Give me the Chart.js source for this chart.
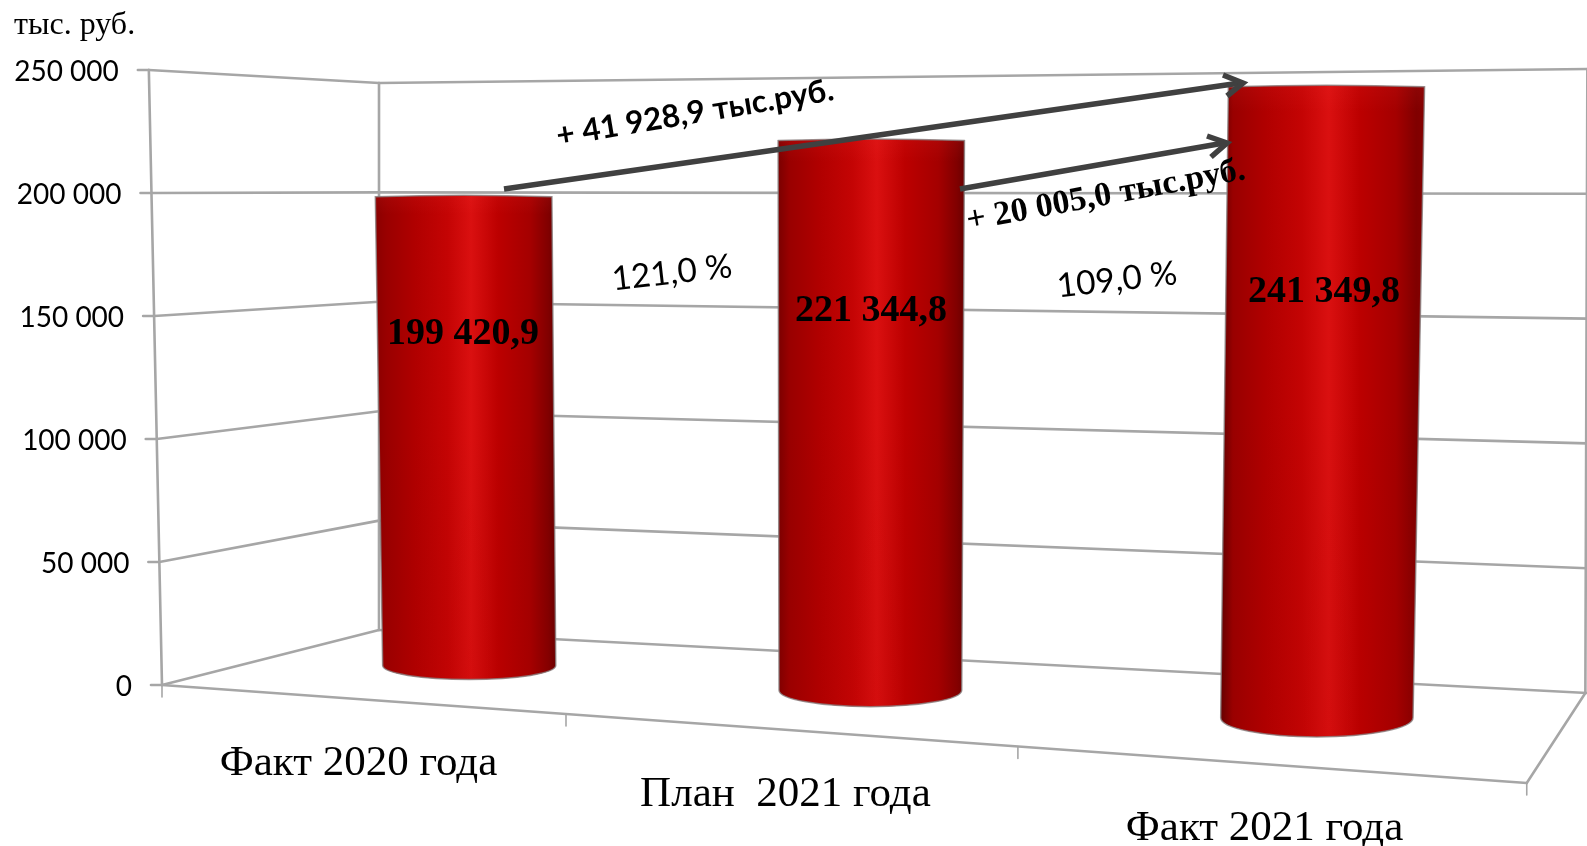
<!DOCTYPE html>
<html><head><meta charset="utf-8">
<script src="https://cdn.jsdelivr.net/npm/chart.js@4/dist/chart.umd.js"></script>
<style>html,body{margin:0;padding:0;background:#fff;overflow:hidden}canvas{display:block}</style>
</head><body>
<canvas id="c" width="1587" height="846" style="width:1587px;height:846px"></canvas>
<script>
// ---- data ----
const categories = ["Факт 2020 года", "План  2021 года", "Факт 2021 года"];
const values = [199420.9, 221344.8, 241349.8];
const yMin = 0, yMax = 250000, yStep = 50000;
const unitLabel = "тыс. руб.";
const growthLabels = ["+ 41 928,9 тыс.руб.", "+ 20 005,0 тыс.руб."];
const percentLabels = ["121,0 %", "109,0 %"];

// ---- perspective view of the 3D box ----
const GRID = "#a6a6a6", ARROW = "#404040";
const frontPt = u => { const x = (1122*u+162)/(1-0.159*u); return {x, y: 685+(x-162)*98/1365}; };
const backPt  = u => { const x = (986*u+379)/(1-0.139*u);  return {x, y: 630+(x-379)*63/1206}; };
const frontH = u => 607+125*u, backH = u => 547+77*u;
const WALL_H = 615;
const BAR_DEPTH = 0.56;
const lean = (x,t) => x + t*0.02*(x-820);
const fmtTick = v => String(v).replace(/\B(?=(\d{3})+$)/g," ");
const fmtVal = v => { const [a,b]=v.toFixed(1).split("."); return fmtTick(a)+","+b; };
const tOf = (c,v) => (c.scales.y.bottom-c.scales.y.getPixelForValue(v))/(c.scales.y.bottom-c.scales.y.top);
const barGeom = (el,c) => {
  const a = c.chartArea, u = (el.x-a.left)/a.width;
  const f = frontPt(u), b = backPt(u), d = BAR_DEPTH;
  const H = frontH(u)*(1-d)+backH(u)*d;
  return {u, x:f.x*(1-d)+b.x*d, y:f.y*(1-d)+b.y*d, H, w:el.width*H/620};
};

// ---- cylinders: the library's bar element, drawn in perspective ----
let chart;
Chart.registry.getElement("bar").prototype.draw = function(ctx){
  const g = barGeom(this, chart), t = (this.base-this.y)/chart.chartArea.height;
  const topY = g.y-t*g.H, cxTop = lean(g.x,t), wt = g.w*1.02, ry = g.w*(0.075+0.03*g.u);
  const tl = cxTop-wt/2, tr = cxTop+wt/2, bl = g.x-g.w/2, br = g.x+g.w/2;
  const path = () => { ctx.beginPath(); ctx.moveTo(tl,topY+1.5);
    ctx.quadraticCurveTo(cxTop,topY-1.5,tr,topY+1.5); ctx.lineTo(br,g.y);
    ctx.ellipse(g.x,g.y,g.w/2,ry,0,0,Math.PI); ctx.closePath(); };
  ctx.save();
  const gr = ctx.createLinearGradient(Math.min(tl,bl),0,Math.max(tr,br),0);
  const L = g.u<0.4?"#8a0000":(g.u<0.6?"#7a0000":"#5e0000");
  const R = g.u<0.4?"#660000":(g.u<0.6?"#6a0000":"#850000");
  gr.addColorStop(0,L); gr.addColorStop(0.06,"#990000"); gr.addColorStop(0.22,"#b00000");
  gr.addColorStop(0.4,"#c40404"); gr.addColorStop(0.53,"#da1010"); gr.addColorStop(0.68,"#bc0000");
  gr.addColorStop(0.86,"#a40000"); gr.addColorStop(0.96,"#800000"); gr.addColorStop(1,R);
  path(); ctx.fillStyle = gr; ctx.fill();
  const ov = ctx.createLinearGradient(0,topY,0,g.y+ry);
  ov.addColorStop(0,"rgba(255,60,60,0.10)"); ov.addColorStop(0.04,"rgba(255,60,60,0)");
  ov.addColorStop(0.5,"rgba(120,0,0,0)"); ov.addColorStop(1,"rgba(170,0,0,0.12)");
  path(); ctx.fillStyle = ov; ctx.fill();
  path(); ctx.strokeStyle = "rgba(135,125,125,0.8)"; ctx.lineWidth = 1.5; ctx.stroke();
  ctx.restore();
};

// ---- walls and floor ----
const wallsPlugin = { id:"walls", beforeInit(c){chart=c;}, beforeDatasetsDraw(c){
  const ctx = c.ctx, FL=frontPt(0), FR=frontPt(1), BL=backPt(0), BR=backPt(1);
  const line=(a,b)=>{ctx.beginPath();ctx.moveTo(a.x,a.y);ctx.lineTo(b.x,b.y);ctx.stroke();};
  ctx.save(); ctx.strokeStyle=GRID; ctx.lineWidth=2.6; ctx.lineCap="round";
  for (let v=yMin; v<=yMax; v+=yStep){
    const t=tOf(c,v);
    const a={x:lean(FL.x,t),y:FL.y-WALL_H*t}, b={x:BL.x,y:BL.y-backH(0)*t}, d={x:BR.x+2,y:BR.y-backH(1)*t};
    line(a,b); line(b,d);
    line({x:a.x-11,y:a.y},a);
  }
  line(FL,{x:lean(FL.x,1),y:FL.y-WALL_H});
  line(BL,{x:BL.x,y:BL.y-backH(0)});
  line(BR,{x:BR.x+2,y:BR.y-backH(1)});
  line(FL,FR); line(FR,BR);
  ctx.lineWidth=1.6;
  for (const u of [0,1/3,2/3,1]){const p=frontPt(u);line(p,{x:p.x,y:p.y+12});}
  ctx.restore();
}, beforeDraw(c){
  // library tick labels follow the slanted front edges
  if (c.$placed===c.scales.y) return; c.$placed=c.scales.y;
  c.scales.y.getLabelItems().forEach((it)=>{
    const t=(c.scales.y.bottom-it.options.translation[1])/(c.scales.y.bottom-c.scales.y.top);
    it.options.translation=[lean(frontPt(0).x,t)-30, it.options.translation[1]+2];
    it.options.textAlign="right";
  });
  c.scales.x.getLabelItems().forEach((it,i)=>{
    const p=frontPt((i+0.5)/categories.length);
    it.options.translation=[p.x,p.y+76]; it.options.textBaseline="alphabetic"; it.options.textAlign="center";
    it.textOffset=0;
  });
}};

// ---- labels and arrows ----
const notesPlugin = { id:"notes", afterDatasetsDraw(c){
  const ctx=c.ctx;
  const txt=(s,x,y,ang,font)=>{ctx.save();ctx.translate(x,y);ctx.rotate(ang*Math.PI/180);ctx.font=font;ctx.fillStyle="#000";
    ctx.textAlign="center";ctx.textBaseline="middle";ctx.fillText(s,0,0);ctx.restore();};
  const arrow=(x0,y0,x1,y1,w1,w2)=>{ctx.save();ctx.strokeStyle=ARROW;ctx.lineWidth=5.5;ctx.lineCap="butt";ctx.lineJoin="miter";
    ctx.beginPath();ctx.moveTo(x0,y0);ctx.lineTo(x1-3,y1);ctx.stroke();
    ctx.beginPath();ctx.moveTo(w1[0],w1[1]);ctx.lineTo(x1,y1);ctx.lineTo(w2[0],w2[1]);ctx.stroke();ctx.restore();};
  const SER="'Liberation Serif',serif", SANS="Lato,sans-serif";
  ctx.save();ctx.font="32px "+SER;ctx.fillStyle="#000";ctx.textAlign="left";ctx.textBaseline="alphabetic";ctx.fillText(unitLabel,14,34);ctx.restore();
  const labelY=[334,311,292], labelX=[463,871,1324];
  values.forEach((v,i)=>txt(fmtVal(v),labelX[i],labelY[i],0,"bold 38px "+SER));
  arrow(504,189,1243,83,[1223,75],[1227,96]);
  arrow(960,189,1227,143,[1207,136],[1211,157]);
  txt(growthLabels[0],695,113,-9.5,"bold 31.5px "+SANS);
  txt(growthLabels[1],1106,196,-10.5,"bold 34px "+SER);
  txt(percentLabels[0],672,273,-6.5,"33.5px "+SANS);
  txt(percentLabels[1],1117,280,-6.5,"33.5px "+SANS);
}};

new Chart(document.getElementById("c"),{
  type:"bar",
  data:{labels:categories,datasets:[{data:values,backgroundColor:"#c00000",barPercentage:0.4,categoryPercentage:1,clip:false}]},
  plugins:[wallsPlugin,notesPlugin],
  options:{
    responsive:false,animation:false,devicePixelRatio:1,
    layout:{padding:{top:70,right:60,left:0,bottom:0}},
    plugins:{legend:{display:false},tooltip:{enabled:false},title:{display:false}},
    scales:{
      x:{grid:{display:false},border:{display:false},
         ticks:{color:"#000",maxRotation:0,font:{family:"'Liberation Serif',serif",size:43}},
         afterFit(s){s.height=846-685;}},
      y:{min:yMin,max:yMax,grid:{display:false},border:{display:false},
         ticks:{stepSize:yStep,color:"#000",font:{family:"Lato,sans-serif",size:28},callback:v=>fmtTick(v)},
         afterFit(s){s.width=162;}}
    }
  }
});
</script>
</body></html>
